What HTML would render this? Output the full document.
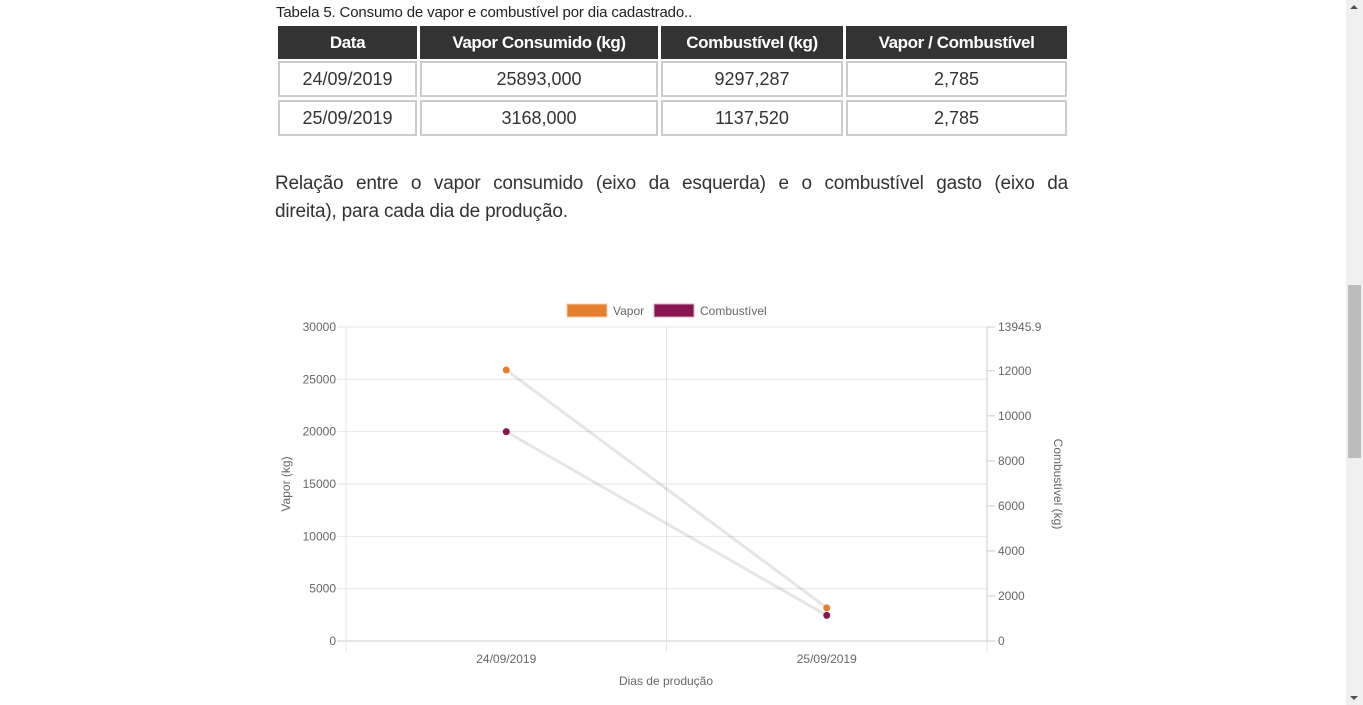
<!DOCTYPE html>
<html><head><meta charset="utf-8">
<style>
body{margin:0;width:1363px;height:705px;overflow:hidden;background:#fff;font-family:"Liberation Sans",sans-serif;color:#222;position:relative}
#cap{position:absolute;left:276px;top:4px;font-size:15px;color:#222;letter-spacing:-0.15px}
.c{position:absolute;box-sizing:border-box;border:2px solid #ccc;text-align:center;font-size:18px;color:#333}
.h{background:#333;color:#fff;border-color:#333;font-weight:bold;font-size:17px;letter-spacing:-0.4px}
.p{position:absolute;left:275px;width:793px;font-size:19px;line-height:28px;color:#333;letter-spacing:-0.2px;white-space:nowrap}
#sb{position:absolute;left:1346px;top:0;width:17px;height:705px;background:#f0f0f0}
#thumb{position:absolute;left:2px;top:285px;width:13px;height:173px;background:#bcbcbc}
svg text{font-family:"Liberation Sans",sans-serif}
</style></head><body>
<div id="cap">Tabela 5. Consumo de vapor e combustível por dia cadastrado..</div>
<div>
<div class="c h" style="left:278px;top:26px;width:139px;height:33px;line-height:29px">Data</div>
<div class="c h" style="left:420px;top:26px;width:238px;height:33px;line-height:29px">Vapor Consumido (kg)</div>
<div class="c h" style="left:661px;top:26px;width:182px;height:33px;line-height:29px">Combustível (kg)</div>
<div class="c h" style="left:846px;top:26px;width:221px;height:33px;line-height:29px">Vapor / Combustível</div>
<div class="c" style="left:278px;top:61px;width:139px;height:36px;line-height:32px">24/09/2019</div>
<div class="c" style="left:420px;top:61px;width:238px;height:36px;line-height:32px">25893,000</div>
<div class="c" style="left:661px;top:61px;width:182px;height:36px;line-height:32px">9297,287</div>
<div class="c" style="left:846px;top:61px;width:221px;height:36px;line-height:32px">2,785</div>
<div class="c" style="left:278px;top:100px;width:139px;height:36px;line-height:32px">25/09/2019</div>
<div class="c" style="left:420px;top:100px;width:238px;height:36px;line-height:32px">3168,000</div>
<div class="c" style="left:661px;top:100px;width:182px;height:36px;line-height:32px">1137,520</div>
<div class="c" style="left:846px;top:100px;width:221px;height:36px;line-height:32px">2,785</div>
</div>
<div>
<div class="p" style="top:170px;display:flex;justify-content:space-between"><span>Relação</span><span>entre</span><span>o</span><span>vapor</span><span>consumido</span><span>(eixo</span><span>da</span><span>esquerda)</span><span>e</span><span>o</span><span>combustível</span><span>gasto</span><span>(eixo</span><span>da</span></div>
<div class="p" style="top:198px">direita), para cada dia de produção.</div>
</div>
<svg id="chart" width="1363" height="705" style="position:absolute;left:0;top:0"></svg>
<div id="sb"><div id="thumb"></div>
<div style="position:absolute;left:4px;top:5px;border:4px solid transparent;border-bottom:4px solid #505050;border-top:0"></div>
<div style="position:absolute;left:4px;top:696px;border:4px solid transparent;border-top:4px solid #505050;border-bottom:0"></div></div>
<script>
const categories=["24/09/2019","25/09/2019"];
const vapor=[25893,3168];
const combustivel=[9297.287,1137.52];
const leftTicks=[0,5000,10000,15000,20000,25000,30000];
const rightTicks=[0,2000,4000,6000,8000,10000,12000,13945.9];
const L=346,R=987,T=327,B=641,leftMax=30000,rightMax=13945.9;
const ns="http://www.w3.org/2000/svg",svg=document.getElementById('chart');
function el(t,a,txt){const e=document.createElementNS(ns,t);for(const k in a)e.setAttribute(k,a[k]);if(txt!==undefined)e.textContent=txt;svg.appendChild(e);return e;}
const bw=(R-L)/categories.length;
const x=i=>L+bw*(i+0.5);
const yl=v=>B-v/leftMax*(B-T);
const yr=v=>B-v/rightMax*(B-T);
leftTicks.forEach(v=>{const y=yl(v);
 const g=el('line',{x1:L-9,x2:R,y1:y,y2:y,stroke:v===0?'#ccc':'#e6e6e6','stroke-width':1});
 
 const t=el('text',{x:L-10,y:y+4,'text-anchor':'end','font-size':12,fill:'#666'},v);
 });
for(let i=0;i<=categories.length;i++){const xx=L+bw*i;
 const g=el('line',{x1:xx,x2:xx,y1:T,y2:B+11,stroke:'#e6e6e6'});
 }
el('line',{x1:R,x2:R,y1:T,y2:B,stroke:'#ccc'});
rightTicks.forEach(v=>{const y=yr(v);
 el('line',{x1:R,x2:R+8,y1:y,y2:y,stroke:'#ccc'});
 const t=el('text',{x:R+11,y:y+4,'font-size':12,fill:'#666'},v);
 });
categories.forEach((c,i)=>{const t=el('text',{x:x(i),y:663,'text-anchor':'middle','font-size':12,fill:'#666'},c);
 });
let t=el('text',{x:666,y:685,'text-anchor':'middle','font-size':12,fill:'#666'},'Dias de produção');

t=el('text',{x:0,y:0,transform:'translate(290,484) rotate(-90)','text-anchor':'middle','font-size':12,fill:'#666'},'Vapor (kg)');

t=el('text',{x:0,y:0,transform:'translate(1054,484) rotate(90)','text-anchor':'middle','font-size':12,fill:'#666'},'Combustível (kg)');

function series(vals,yf,color,name){
 const p=el('polyline',{points:vals.map((v,i)=>x(i)+','+yf(v)).join(' '),fill:'none',stroke:'rgba(0,0,0,0.1)','stroke-width':3});
 
 vals.forEach((v,i)=>{const c=el('circle',{cx:x(i),cy:yf(v),r:3.5,fill:color});
  });}
series(vapor,yl,'#e67e2e','vapor');
series(combustivel,yr,'#8a1553','combustivel');
let r=el('rect',{x:567,y:304,width:40,height:13,fill:'#e67e2e',stroke:'#f0d0b0'});

t=el('text',{x:613,y:315,'font-size':12,fill:'#666'},'Vapor');

r=el('rect',{x:654,y:304,width:40,height:13,fill:'#8a1553',stroke:'#d0b0c0'});

t=el('text',{x:700,y:315,'font-size':12,fill:'#666'},'Combustível');

</script>
</body></html>
